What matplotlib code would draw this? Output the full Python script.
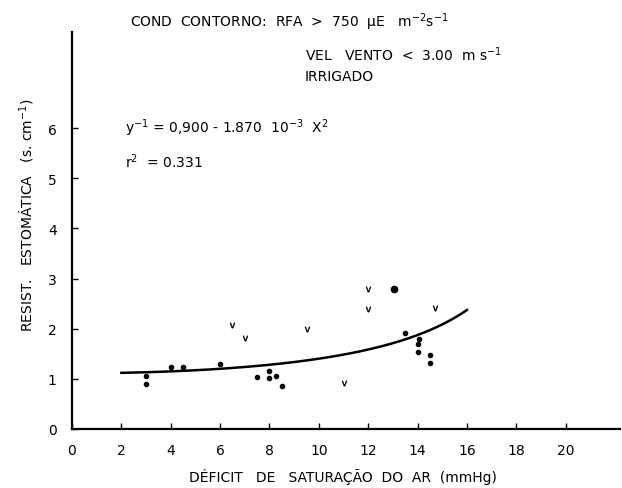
import numpy as np
import matplotlib
matplotlib.use("Agg")
import matplotlib.pyplot as plt

dot_x = [3.0, 3.0, 4.0, 4.5, 6.0, 7.5, 8.0, 8.0, 8.25, 8.5,
         13.5, 14.05, 14.0, 14.0, 14.5, 14.5]
dot_y = [1.05, 0.90, 1.24, 1.24, 1.30, 1.03, 1.15, 1.01, 1.05, 0.85,
         1.92, 1.80, 1.69, 1.53, 1.47, 1.32]
big_x = [13.05]
big_y = [2.79]
v_x = [6.5, 7.0, 9.5, 11.0, 12.0, 12.0, 14.7]
v_y = [2.07, 1.81, 2.00, 0.91, 2.80, 2.40, 2.42]

# fitted model printed on the chart: 1/y = a - b * x^2
coef_a = 0.900
coef_b = 1.870e-3
fit_range = (2.0, 16.0)

x_ticks = [0, 2, 4, 6, 8, 10, 12, 14, 16, 18, 20]
y_ticks = [0, 1, 2, 3, 4, 5, 6]

W, H = 622, 489
fig = plt.figure(figsize=(W / 100, H / 100), dpi=100)
ax = fig.add_axes([72 / W, 1 - 430 / H, (620 - 72) / W, (430 - 33) / H])

xf = np.linspace(fit_range[0], fit_range[1], 200)
yf = 1.0 / (coef_a - coef_b * xf ** 2)
ax.plot(xf, yf, color="black", lw=1.8)

ax.plot(dot_x, dot_y, "o", color="black", ms=3.0, ls="none")
ax.plot(big_x, big_y, "o", color="black", ms=4.5, ls="none")
ax.plot(v_x, v_y, marker="$\\mathsf{v}$", color="black", ms=3.8, mew=0.3, ls="none")

ax.set_xlim(0, 22.2)
ax.set_ylim(0, 7.92)
ax.set_xticks(x_ticks)
ax.set_yticks(y_ticks)
ax.tick_params(direction="in", length=4, width=1, labelsize=10)
ax.tick_params(axis="x", pad=10)
ax.tick_params(axis="y", pad=11)
for s in ["top", "right"]:
    ax.spines[s].set_visible(False)
for s in ["left", "bottom"]:
    ax.spines[s].set_linewidth(1.6)

def px(x, y):
    return x / W, 1 - y / H

fs = 10
fig.text(*px(130, 22), "COND  CONTORNO:  RFA  >  750  μE   m$^{-2}$s$^{-1}$",
         fontsize=fs, va="center", ha="left")
fig.text(*px(305, 55), "VEL   VENTO  <  3.00  m s$^{-1}$",
         fontsize=fs, va="center", ha="left")
fig.text(*px(305, 77), "IRRIGADO", fontsize=fs, va="center", ha="left")
fig.text(*px(125, 128), "y$^{-1}$ = 0,900 - 1.870  10$^{-3}$  X$^{2}$",
         fontsize=fs, va="center", ha="left")
fig.text(*px(125, 162), "r$^{2}$  = 0.331", fontsize=fs, va="center", ha="left")

fig.text(*px(27, 215), "RESIST.   ESTOMÁTICA   (s. cm$^{-1}$)", fontsize=fs,
         rotation=90, va="center", ha="center")
fig.text(*px(343, 477), "DÉFICIT   DE   SATURAÇÃO  DO  AR  (mmHg)", fontsize=fs,
         va="center", ha="center")

fig.savefig("out.png", dpi=100)
